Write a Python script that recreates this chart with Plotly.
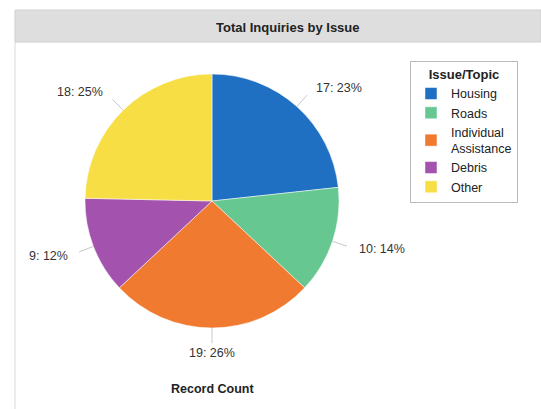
import math
import plotly.graph_objects as go

categories = ["Housing", "Roads", "Individual<br>Assistance", "Debris", "Other"]
counts = [17, 10, 19, 9, 18]
colors = ["#1f6fc2", "#66c790", "#f07a30", "#a352ae", "#f6de44"]

W, H = 541, 409
cx, cy, R = 212, 201, 127  # pie centre / radius in pixels


def px(x):
    return x / W


def py(y):
    return 1 - y / H


fig = go.Figure(go.Pie(
    labels=categories,
    values=counts,
    sort=False,
    direction="clockwise",
    rotation=0,
    textinfo="none",
    hoverinfo="skip",
    marker=dict(colors=colors, line=dict(color="white", width=0.5)),
    domain=dict(x=[px(cx - R), px(cx + R)], y=[py(cy + R), py(cy - R)]),
))

total = sum(counts)
annotations = []
shapes = []
# title bar
shapes.append(dict(type="rect", xref="paper", yref="paper", x0=px(15), x1=1,
                   y0=py(42), y1=py(10), fillcolor="#dedede",
                   line=dict(color="#d0d0d0", width=1), layer="below"))
shapes.append(dict(type="line", xref="paper", yref="paper", x0=px(15), x1=px(15),
                   y0=0, y1=py(42), line=dict(color="#d8d8d8", width=1)))
annotations.append(dict(text="<b>Total Inquiries by Issue</b>", x=px(288), y=py(27),
                        xref="paper", yref="paper", showarrow=False,
                        font=dict(size=13, color="#222"), xanchor="center", yanchor="middle"))
annotations.append(dict(text="<b>Record Count</b>", x=px(cx), y=py(389),
                        xref="paper", yref="paper", showarrow=False,
                        font=dict(size=12.5, color="#222"), xanchor="center", yanchor="middle"))

cum = 0
for v in counts:
    mid = (cum + v / 2) / total * 2 * math.pi
    cum += v
    s, c = math.sin(mid), math.cos(mid)
    x0, y0 = cx + R * s, cy - R * c
    x1, y1 = cx + R * 1.12 * s, cy - R * 1.12 * c
    shapes.append(dict(type="line", xref="paper", yref="paper",
                       x0=px(x0), y0=py(y0), x1=px(x1), y1=py(y1),
                       line=dict(color="#c8c8c8", width=1)))
    tx, ty = cx + R * 1.2 * s, cy - R * 1.2 * c
    xa = "left" if s > 0.15 else ("right" if s < -0.15 else "center")
    pct = round(v / total * 100)
    annotations.append(dict(text=f"{v}: {pct}%", x=px(tx), y=py(ty),
                            xref="paper", yref="paper", showarrow=False,
                            xanchor=xa, yanchor="middle",
                            font=dict(size=12.5, color="#333")))

fig.update_layout(
    width=W, height=H,
    margin=dict(l=0, r=0, t=0, b=0),
    paper_bgcolor="white",
    font=dict(family="Liberation Sans, Arial, sans-serif", size=12, color="#222"),
    showlegend=True,
    legend=dict(
        x=px(410), y=py(61), xanchor="left", yanchor="top",
        title=dict(text="<b>Issue/Topic</b>", side="top center", font=dict(size=13)),
        bordercolor="#bbbbbb", borderwidth=1, bgcolor="white",
        font=dict(size=12.5, color="#222"),
        tracegroupgap=0, itemwidth=30,
    ),
    shapes=shapes,
    annotations=annotations,
)

fig.write_html("out.html", config={"displayModeBar": False},
               post_script="document.body.style.margin='0';")
